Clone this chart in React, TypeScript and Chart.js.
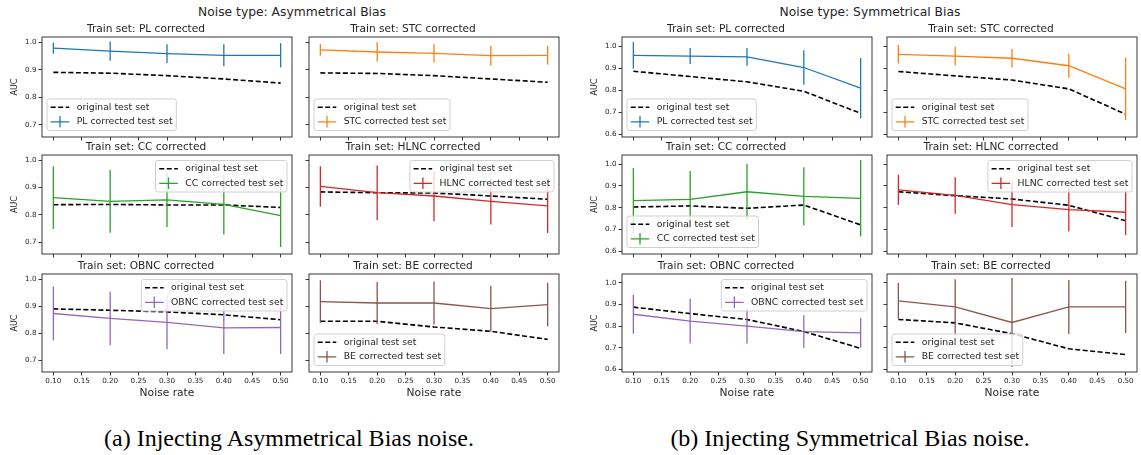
import React, { useEffect, useRef } from 'react';
import { Chart, registerables } from 'chart.js';
Chart.register(...registerables);

// ---------- data ----------
const noiseRates = [0.1, 0.2, 0.3, 0.4, 0.5];
const xTickValues = [0.1, 0.15, 0.2, 0.25, 0.3, 0.35, 0.4, 0.45, 0.5];
const yTicksAsym = [0.7, 0.8, 0.9, 1.0];
const yTicksSym = [0.6, 0.7, 0.8, 0.9, 1.0];
const trainSets = ['PL', 'STC', 'CC', 'HLNC', 'OBNC', 'BE'];
const seriesColors = ['#1f77b4', '#ff7f0e', '#2ca02c', '#d62728', '#9467bd', '#8c564b'];

// Asymmetrical Bias
const asymPLOrig = [0.891, 0.888, 0.879, 0.867, 0.852];
const asymPLCorr = [0.979, 0.968, 0.959, 0.953, 0.953];
const asymPLErr = [0.020, 0.035, 0.034, 0.040, 0.044];
const asymSTCOrig = [0.889, 0.887, 0.879, 0.867, 0.855];
const asymSTCCorr = [0.973, 0.965, 0.960, 0.952, 0.953];
const asymSTCErr = [0.021, 0.035, 0.033, 0.036, 0.034];
const asymCCOrig = [0.837, 0.838, 0.836, 0.836, 0.827];
const asymCCCorr = [0.863, 0.849, 0.855, 0.838, 0.797];
const asymCCErr = [0.115, 0.115, 0.100, 0.110, 0.115];
const asymHLNCOrig = [0.884, 0.881, 0.880, 0.869, 0.857];
const asymHLNCCorr = [0.904, 0.881, 0.869, 0.849, 0.833];
const asymHLNCErr = [0.074, 0.100, 0.093, 0.085, 0.100];
const asymOBNCOrig = [0.890, 0.885, 0.879, 0.868, 0.850];
const asymOBNCCorr = [0.873, 0.855, 0.840, 0.820, 0.821];
const asymOBNCErr = [0.100, 0.100, 0.100, 0.097, 0.098];
const asymBEOrig = [0.844, 0.844, 0.823, 0.807, 0.777];
const asymBECorr = [0.917, 0.912, 0.912, 0.891, 0.906];
const asymBEErr = [0.079, 0.078, 0.080, 0.085, 0.081];

// Symmetrical Bias
const symPLOrig = [0.886, 0.862, 0.838, 0.795, 0.695];
const symPLCorr = [0.958, 0.955, 0.951, 0.903, 0.809];
const symPLErr = [0.060, 0.036, 0.040, 0.078, 0.137];
const symSTCOrig = [0.885, 0.865, 0.846, 0.806, 0.691];
const symSTCCorr = [0.963, 0.955, 0.945, 0.911, 0.806];
const symSTCErr = [0.042, 0.042, 0.042, 0.055, 0.142];
const symCCOrig = [0.803, 0.808, 0.797, 0.812, 0.721];
const symCCCorr = [0.832, 0.838, 0.873, 0.852, 0.843];
const symCCErr = [0.150, 0.130, 0.128, 0.133, 0.175];
const symHLNCOrig = [0.873, 0.855, 0.840, 0.811, 0.740];
const symHLNCCorr = [0.882, 0.856, 0.814, 0.791, 0.779];
const symHLNCErr = [0.069, 0.084, 0.103, 0.100, 0.105];
const symOBNCOrig = [0.888, 0.858, 0.831, 0.775, 0.697];
const symOBNCCorr = [0.855, 0.823, 0.800, 0.775, 0.769];
const symOBNCErr = [0.090, 0.104, 0.081, 0.075, 0.069];
const symBEOrig = [0.831, 0.815, 0.765, 0.695, 0.668];
const symBECorr = [0.917, 0.889, 0.817, 0.889, 0.889];
const symBEErr = [0.083, 0.128, 0.206, 0.125, 0.121];

const asymOrig = [asymPLOrig, asymSTCOrig, asymCCOrig, asymHLNCOrig, asymOBNCOrig, asymBEOrig];
const asymCorr = [asymPLCorr, asymSTCCorr, asymCCCorr, asymHLNCCorr, asymOBNCCorr, asymBECorr];
const asymErr = [asymPLErr, asymSTCErr, asymCCErr, asymHLNCErr, asymOBNCErr, asymBEErr];
const symOrig = [symPLOrig, symSTCOrig, symCCOrig, symHLNCOrig, symOBNCOrig, symBEOrig];
const symCorr = [symPLCorr, symSTCCorr, symCCCorr, symHLNCCorr, symOBNCCorr, symBECorr];
const symErr = [symPLErr, symSTCErr, symCCErr, symHLNCErr, symOBNCErr, symBEErr];

const asymLegendLoc = ['lower left', 'lower left', 'upper right', 'upper right', 'upper right', 'lower left'];
const symLegendLoc = ['lower left', 'lower left', 'lower left', 'upper right', 'upper right', 'lower left'];

// ---------- layout ----------
const FONT = '"DejaVu Sans", "Noto Sans", sans-serif';
const TXT = '#262626';
const AX_W = 42; // y-axis box width
const TITLE_H = 14; // panel title box height
const X_H = 28; // x-axis box height
const PAD_R = 8;
const groupCols = [[42, 309], [622, 887]];
const rowTops = [37, 155, 274];
const rowHeights = [100, 99, 98];
const plotW = 250;

const errorBarPlugin = {
  id: 'errorBars',
  afterDatasetsDraw(chart: any, _a: any, opts: any) {
    const { ctx, chartArea } = chart;
    const xs = chart.scales.x;
    const ys = chart.scales.y;
    const ds = chart.data.datasets[1];
    const errs: number[] = opts.errors || [];
    ctx.save();
    ctx.beginPath();
    ctx.rect(chartArea.left, chartArea.top, chartArea.right - chartArea.left, chartArea.bottom - chartArea.top);
    ctx.clip();
    ctx.strokeStyle = ds.borderColor;
    ctx.lineWidth = 1.3;
    ds.data.forEach((pt: any, i: number) => {
      const px = xs.getPixelForValue(pt.x);
      ctx.beginPath();
      ctx.moveTo(px, ys.getPixelForValue(pt.y - errs[i]));
      ctx.lineTo(px, ys.getPixelForValue(pt.y + errs[i]));
      ctx.stroke();
    });
    ctx.restore();
  },
};

const framePlugin = {
  id: 'frame',
  afterDatasetsDraw(chart: any) {
    const { ctx, chartArea: a } = chart;
    ctx.save();
    ctx.strokeStyle = '#222';
    ctx.lineWidth = 0.9;
    ctx.strokeRect(a.left, a.top, a.right - a.left, a.bottom - a.top);
    ctx.restore();
  },
};

const mplLegendPlugin = {
  id: 'mplLegend',
  afterDatasetsDraw(chart: any, _a: any, opts: any) {
    const { ctx, chartArea: a } = chart;
    const ds = chart.data.datasets;
    ctx.save();
    ctx.font = `9.3px ${FONT}`;
    const tw = Math.max(ctx.measureText(ds[0].label).width, ctx.measureText(ds[1].label).width);
    const bw = 3.7 + 18.6 + 7.4 + tw + 3.7;
    const bh = 31.5;
    let bx: number, by: number;
    if (opts.loc === 'upper right') {
      bx = a.right - 5 - bw;
      by = a.top + 5.5;
    } else {
      bx = a.left + 5;
      by = a.bottom - 6.5 - bh;
    }
    ctx.beginPath();
    ctx.roundRect(bx, by, bw, bh, 2.5);
    ctx.fillStyle = 'rgba(255,255,255,0.8)';
    ctx.fill();
    ctx.strokeStyle = '#d0d0d0';
    ctx.lineWidth = 1;
    ctx.stroke();
    const r1 = by + 8.3;
    const r2 = by + 22.8;
    const hx0 = bx + 3.7;
    const hx1 = bx + 22.3;
    ctx.strokeStyle = ds[0].borderColor;
    ctx.lineWidth = 1.6;
    ctx.setLineDash([5, 2.5]);
    ctx.beginPath();
    ctx.moveTo(hx0, r1);
    ctx.lineTo(hx1, r1);
    ctx.stroke();
    ctx.setLineDash([]);
    ctx.strokeStyle = ds[1].borderColor;
    ctx.lineWidth = 1.3;
    ctx.beginPath();
    ctx.moveTo(hx0, r2);
    ctx.lineTo(hx1, r2);
    const mx = (hx0 + hx1) / 2;
    ctx.moveTo(mx, r2 - 5.8);
    ctx.lineTo(mx, r2 + 5.8);
    ctx.stroke();
    ctx.fillStyle = TXT;
    ctx.textBaseline = 'middle';
    ctx.textAlign = 'left';
    ctx.fillText(ds[0].label, bx + 29.7, r1);
    ctx.fillText(ds[1].label, bx + 29.7, r2);
    ctx.restore();
  },
};

type PanelDef = {
  left: number;
  top: number;
  height: number;
  name: string;
  color: string;
  orig: number[];
  corr: number[];
  err: number[];
  yTicks: number[];
  yMin: number;
  yMax: number;
  showY: boolean;
  showX: boolean;
  loc: string;
};

function buildPanels(): PanelDef[] {
  const out: PanelDef[] = [];
  const groups = [
    { orig: asymOrig, corr: asymCorr, err: asymErr, loc: asymLegendLoc, yTicks: yTicksAsym, yMin: 0.656, yMax: 1.0195 },
    { orig: symOrig, corr: symCorr, err: symErr, loc: symLegendLoc, yTicks: yTicksSym, yMin: 0.5875, yMax: 1.0415 },
  ];
  groups.forEach((g, gi) => {
    trainSets.forEach((name, i) => {
      const r = Math.floor(i / 2);
      const c = i % 2;
      out.push({
        left: groupCols[gi][c],
        top: rowTops[r],
        height: rowHeights[r],
        name,
        color: seriesColors[i],
        orig: g.orig[i],
        corr: g.corr[i],
        err: g.err[i],
        yTicks: g.yTicks,
        yMin: g.yMin,
        yMax: g.yMax,
        showY: c === 0,
        showX: r === 2,
        loc: g.loc[i],
      });
    });
  });
  return out;
}

function Panel({ p }: { p: PanelDef }) {
  const ref = useRef<HTMLCanvasElement>(null);
  const W = AX_W + plotW + PAD_R;
  const H = TITLE_H + p.height + X_H;
  useEffect(() => {
    const chart = new Chart(ref.current as HTMLCanvasElement, {
      type: 'line',
      data: {
        datasets: [
          {
            label: 'original test set',
            data: noiseRates.map((x, i) => ({ x, y: p.orig[i] })),
            borderColor: '#000000',
            borderWidth: 1.6,
            borderDash: [5, 2.5],
            pointRadius: 0,
            fill: false,
            tension: 0,
            order: 2,
          },
          {
            label: `${p.name} corrected test set`,
            data: noiseRates.map((x, i) => ({ x, y: p.corr[i] })),
            borderColor: p.color,
            borderWidth: 1.3,
            pointRadius: 0,
            fill: false,
            tension: 0,
            order: 1,
          },
        ],
      },
      options: {
        animation: false,
        responsive: false,
        devicePixelRatio: 1,
        events: [],
        layout: { padding: { left: 0, right: PAD_R, top: 0, bottom: 0 } },
        plugins: {
          legend: { display: false },
          tooltip: { enabled: false },
          title: {
            display: true,
            text: `Train set: ${p.name} corrected`,
            color: TXT,
            font: { family: FONT, size: 10.6, weight: 'normal' },
            padding: { top: 0, bottom: 1.28 },
          },
          errorBars: { errors: p.err },
          mplLegend: { loc: p.loc },
        } as any,
        scales: {
          x: {
            type: 'linear',
            min: 0.08,
            max: 0.52,
            afterBuildTicks: (s: any) => {
              s.ticks = xTickValues.map((v) => ({ value: v }));
            },
            afterFit: (s: any) => {
              s.height = X_H;
            },
            ticks: {
              autoSkip: false,
              maxRotation: 0,
              padding: 1,
              color: TXT,
              font: { family: FONT, size: 7.2 },
              callback: (v: any) => (p.showX ? Number(v).toFixed(2) : ''),
            },
            grid: { display: true, drawOnChartArea: false, drawTicks: true, tickLength: 3.5, tickColor: '#222', tickWidth: 0.9 },
            border: { display: false },
            title: {
              display: p.showX,
              text: 'Noise rate',
              color: TXT,
              font: { family: FONT, size: 10.7 },
              padding: { top: 0, bottom: 0 },
            },
          },
          y: {
            type: 'linear',
            min: p.yMin,
            max: p.yMax,
            afterBuildTicks: (s: any) => {
              s.ticks = p.yTicks.map((v) => ({ value: v }));
            },
            afterFit: (s: any) => {
              s.width = AX_W;
            },
            ticks: {
              autoSkip: false,
              padding: 2,
              color: TXT,
              font: { family: FONT, size: 7.2 },
              callback: (v: any) => (p.showY ? Number(v).toFixed(1) : ''),
            },
            grid: { display: true, drawOnChartArea: false, drawTicks: true, tickLength: 3.5, tickColor: '#222', tickWidth: 0.9 },
            border: { display: false },
            title: {
              display: p.showY,
              text: 'AUC',
              color: TXT,
              font: { family: FONT, size: 8 },
              padding: { top: 10, bottom: 0 },
            },
          },
        },
      },
      plugins: [errorBarPlugin, framePlugin, mplLegendPlugin],
    } as any);
    return () => chart.destroy();
  }, []);
  return (
    <canvas
      ref={ref}
      width={W}
      height={H}
      style={{ position: 'absolute', left: p.left - AX_W, top: p.top - TITLE_H, width: W, height: H }}
    />
  );
}

export default function App() {
  const panels = buildPanels();
  return (
    <div style={{ position: 'fixed', left: 0, top: 0, width: 1141, height: 455, background: '#fff', overflow: 'hidden' }}>
      <div
        style={{
          position: 'absolute', left: 92, width: 400, top: 4, textAlign: 'center',
          font: `12.3px ${FONT}`, lineHeight: '16px', color: TXT, whiteSpace: 'nowrap',
        }}
      >
        Noise type: Asymmetrical Bias
      </div>
      <div
        style={{
          position: 'absolute', left: 670, width: 400, top: 4, textAlign: 'center',
          font: `12.3px ${FONT}`, lineHeight: '16px', color: TXT, whiteSpace: 'nowrap',
        }}
      >
        Noise type: Symmetrical Bias
      </div>
      {panels.map((p, i) => (
        <Panel key={i} p={p} />
      ))}
      <div
        style={{
          position: 'absolute', left: 0, width: 578, top: 424, textAlign: 'center',
          font: `24px "Liberation Serif", "DejaVu Serif", serif`, lineHeight: '28px', color: '#000', whiteSpace: 'nowrap',
        }}
      >
        (a) Injecting Asymmetrical Bias noise.
      </div>
      <div
        style={{
          position: 'absolute', left: 570, width: 560, top: 424, textAlign: 'center',
          font: `24px "Liberation Serif", "DejaVu Serif", serif`, lineHeight: '28px', color: '#000', whiteSpace: 'nowrap',
        }}
      >
        (b) Injecting Symmetrical Bias noise.
      </div>
    </div>
  );
}
